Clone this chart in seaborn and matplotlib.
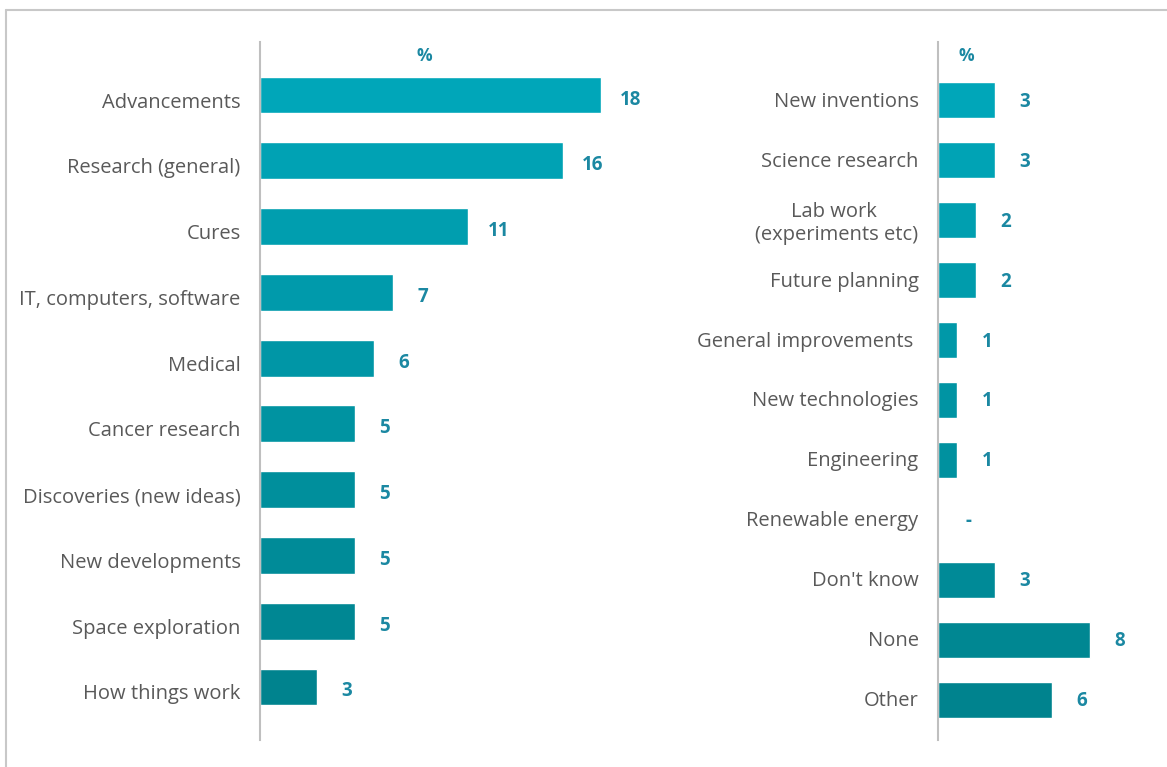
import numpy as np
import pandas as pd
import matplotlib
matplotlib.use("Agg")
import matplotlib.pyplot as plt
import seaborn as sns
from matplotlib.lines import Line2D
from matplotlib.colors import to_rgb

left_cats = ["Advancements", "Research (general)", "Cures", "IT, computers, software",
             "Medical", "Cancer research", "Discoveries (new ideas)", "New developments",
             "Space exploration", "How things work"]
left_vals = [18, 16, 11, 7, 6, 5, 5, 5, 5, 3]
left_labels = ["18", "16", "11", "7", "6", "5", "5", "5", "5", "3"]

right_cats = ["New inventions", "Science research", "Lab work \n(experiments etc)",
              "Future planning", "General improvements ", "New technologies", "Engineering",
              "Renewable energy", "Don't know", "None", "Other"]
right_vals = [3, 3, 2, 2, 1, 1, 1, 0, 3, 8, 6]
right_labels = ["3", "3", "2", "2", "1", "1", "1", "-", "3", "8", "6"]

sns.set_theme(style="white")
plt.rcParams['font.family'] = ['Open Sans', 'DejaVu Sans']

W, H = 1167, 767
fig = plt.figure(figsize=(W / 100, H / 100), dpi=100)

top_c = np.array(to_rgb("#00A6B9"))
bot_c = np.array(to_rgb("#00838E"))

def grad(n):
    return [tuple(top_c + (bot_c - top_c) * i / (n - 1)) for i in range(n)]

label_col = "#1B88A2"
tick_col = "#595959"
px_per_unit = 18.94

def panel(x0, x1, cats, vals, labels, top_pad, bot_pad, bar_w, pct_x, spacing,
          tick_off, val_off):
    ax = fig.add_axes([x0 / W, 1 - 740 / H, (x1 - x0) / W, (740 - 42) / H])
    df = pd.DataFrame({"cat": cats, "val": vals})
    sns.barplot(data=df, x="val", y="cat", hue="cat", palette=grad(len(cats)),
                legend=False, orient="h", width=bar_w, ax=ax, saturation=1)
    n = len(cats)
    ax.set_yticks(np.arange(n) + tick_off / spacing, labels=cats)
    ax.set_xlim(0, (x1 - x0) / px_per_unit)
    ax.set_ylim(n - 1 + bot_pad, -top_pad)
    ax.set_xlabel("")
    ax.set_ylabel("")
    ax.set_xticks([])
    for s in ["top", "right", "bottom"]:
        ax.spines[s].set_visible(False)
    ax.spines["left"].set_color("#BFBFBF")
    ax.spines["left"].set_linewidth(1.5)
    ax.tick_params(axis="y", length=0, pad=14, labelsize=14.5, labelcolor=tick_col)
    for t in ax.get_yticklabels():
        t.set_multialignment("center")
        t.set_verticalalignment("center_baseline")
    for i, (v, lab) in enumerate(zip(vals, labels)):
        ax.text(v + 30 / px_per_unit, i + val_off / spacing, lab, ha="center",
                va="center_baseline", fontsize=13.5, fontweight="bold", color=label_col)
    ax.text(pct_x, -top_pad + 12 / spacing, "%", ha="center", va="center_baseline",
            fontsize=12.5, fontweight="bold", color=label_col)
    ax.patch.set_alpha(0)
    return ax

axL = panel(260, 660, left_cats, left_vals, left_labels, 0.807, 0.807, 0.56,
            (424 - 260) / px_per_unit, 65.7, 5, 2)
axR = panel(938, 1160, right_cats, right_vals, right_labels, 0.967, 0.667, 0.6,
            (966 - 938) / px_per_unit, 60, -1, -1)

fig.add_artist(Line2D([6 / W, 1], [1 - 10 / H, 1 - 10 / H], color="#C8C8C8", lw=1.5,
                      transform=fig.transFigure))
fig.add_artist(Line2D([6 / W, 6 / W], [0, 1 - 10 / H], color="#C8C8C8", lw=1.5,
                      transform=fig.transFigure))

fig.savefig("out.png", dpi=100)
